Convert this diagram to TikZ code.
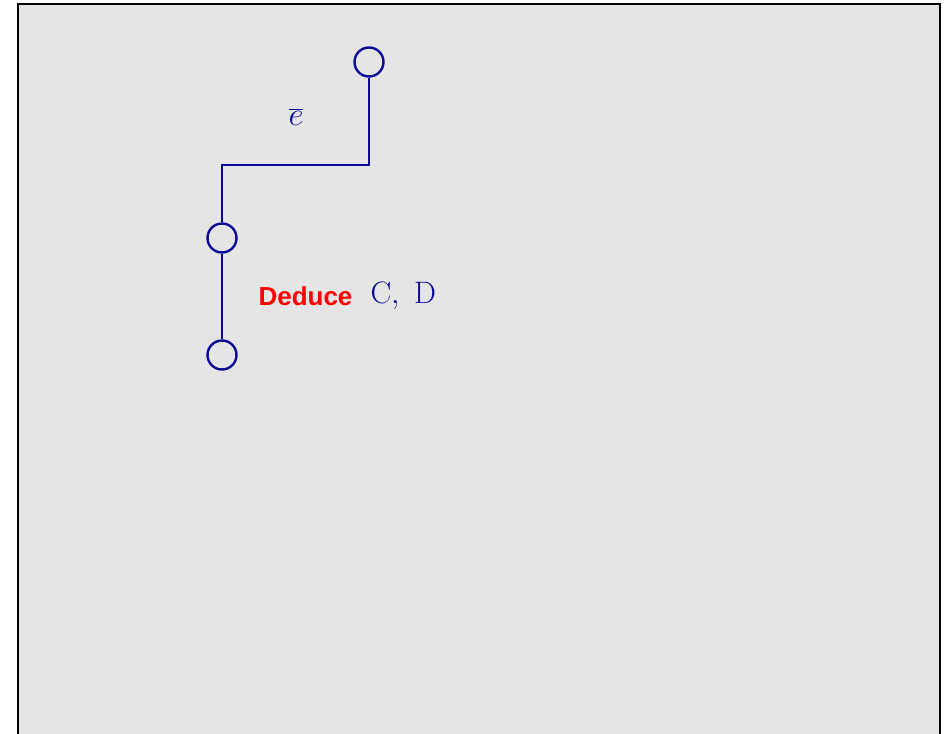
\documentclass[tikz,border=0pt]{standalone}
\usepackage{fix-cm}
\usepackage{fontspec}
\setsansfont{Liberation Sans}
\definecolor{navy}{RGB}{10,10,150}
\definecolor{panel}{RGB}{229,229,229}
\tikzset{
  dot/.style={draw=navy,circle,line width=2.4pt,minimum size=29pt,inner sep=0pt},
  wire/.style={navy,line width=2.6pt},
}
\begin{document}
\begin{tikzpicture}[x=1pt,y=-1pt]
    \useasboundingbox (0,0) rectangle (944,733);
    \begin{scope}
        \clip (0,0) rectangle (944,733);
        \draw[fill=panel,line width=1.4pt] (18,4) rectangle (940,745);
    \end{scope}
    \node[dot] (top) at (369,62){};
    \node[dot] (mid) at (222,238){};
    \node[dot] (bot) at (222,355){};
    \coordinate (bend) at (369,165);
    \draw[wire] (top) -- (bend) -| (mid);
    \draw[wire] (mid) -- (bot);
    \draw[navy] (296,117) node{\fontsize{33}{36}\selectfont $\overline{e}$};
    \node[red,anchor=west,font=\sffamily\bfseries\fontsize{26}{30}\selectfont] (deduce) at (255,296){Deduce};
    \node[navy,anchor=west,font=\fontsize{31}{34}\selectfont] (vars) at ([xshift=11pt]deduce.east){$\mathrm{C},\ \mathrm{D}$};
\end{tikzpicture}
\end{document}
